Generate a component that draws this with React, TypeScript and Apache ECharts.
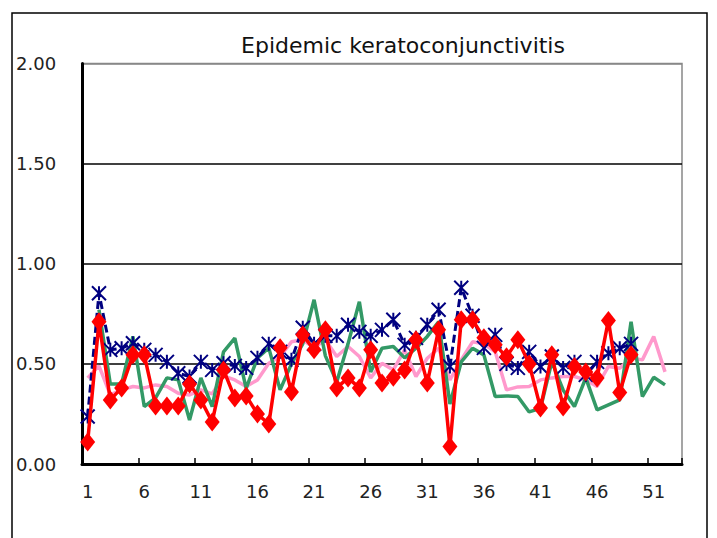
import React, { useEffect, useRef } from "react";
import * as echarts from "echarts";

const titleText = "Epidemic keratoconjunctivitis";
const weeks: string[] = Array.from({ length: 53 }, (_, i) => String(i + 1));
const yTicks = [0, 0.5, 1.0, 1.5, 2.0];

const pinkSeries: (number | null)[] = [
  0.43, 0.49, 0.345, 0.37, 0.387, 0.38, 0.395, 0.387, 0.353, 0.345,
  0.37, 0.35, 0.44, 0.42, 0.387, 0.42, 0.503, 0.537, 0.61, 0.62,
  0.58, 0.62, 0.537, 0.587, 0.537, 0.43, 0.503, 0.47, 0.57, 0.437,
  0.528, 0.578, 0.42, 0.52, 0.61, 0.6, 0.56, 0.37, 0.385, 0.387,
  0.42, 0.43, 0.437, 0.437, 0.42, 0.387, 0.487, 0.478, 0.53, 0.52,
  0.637, 0.46,
];

const greenSeries: (number | null)[] = [
  null, 0.77, 0.4, 0.4, 0.637, 0.287, 0.33, 0.43, 0.42, 0.22,
  0.43, 0.287, 0.56, 0.628, 0.378, 0.53, 0.58, 0.37, 0.5, 0.6,
  0.82, 0.54, 0.41, 0.6, 0.81, 0.46, 0.578, 0.587, 0.53, 0.578,
  0.637, 0.71, 0.3, 0.51, 0.578, 0.545, 0.337, 0.34, 0.337, 0.26,
  0.278, 0.51, 0.37, 0.287, 0.43, 0.27, 0.295, 0.32, 0.71, 0.337,
  0.433, 0.395,
];

const navySeries: (number | null)[] = [
  0.237, 0.853, 0.57, 0.578, 0.603, 0.57, 0.545, 0.51, 0.453, 0.437,
  0.51, 0.47, 0.503, 0.49, 0.48, 0.53, 0.6, 0.56, 0.52, 0.68,
  0.6, 0.64, 0.64, 0.695, 0.66, 0.64, 0.67, 0.72, 0.595, 0.63,
  0.695, 0.77, 0.487, 0.88, 0.74, 0.58, 0.645, 0.5, 0.48, 0.56,
  0.487, 0.537, 0.48, 0.51, 0.445, 0.51, 0.553, 0.578, 0.6,
];

const redSeries: (number | null)[] = [
  0.11, 0.71, 0.32, 0.38, 0.545, 0.545, 0.29, 0.29, 0.29, 0.4,
  0.32, 0.21, 0.47, 0.33, 0.34, 0.25, 0.2, 0.58, 0.36, 0.645,
  0.57, 0.67, 0.38, 0.43, 0.38, 0.57, 0.405, 0.433, 0.47, 0.62,
  0.405, 0.67, 0.087, 0.72, 0.72, 0.63, 0.595, 0.535, 0.62, 0.5,
  0.28, 0.545, 0.285, 0.487, 0.46, 0.43, 0.717, 0.357, 0.545,
];

const starPath = "path://M0 0 L10 10 M10 0 L0 10 M5 0 L5 10";

export default function App() {
  const ref = useRef<HTMLDivElement>(null);
  useEffect(() => {
    if (!ref.current) return;
    const chart = echarts.init(ref.current, undefined, { renderer: "svg" });
    const font = "DejaVu Sans";
    chart.setOption({
      animation: false,
      backgroundColor: "#ffffff",
      title: {
        text: titleText,
        left: 398,
        top: 29,
        textAlign: "center",
        textStyle: {
          fontFamily: font,
          fontSize: 22,
          fontWeight: "normal",
          color: "#111",
        },
      },
      graphic: [
        {
          type: "rect",
          shape: { x: 12, y: 13, width: 695, height: 600 },
          style: { fill: "none", stroke: "#000", lineWidth: 1.5 },
          silent: true,
        },
      ],
      grid: {
        left: 82,
        right: 35,
        top: 63.5,
        bottom: 74,
        show: true,
        borderColor: "#888",
        borderWidth: 1.5,
        backgroundColor: "transparent",
      },
      xAxis: {
        type: "category",
        data: weeks,
        boundaryGap: true,
        axisLine: { lineStyle: { color: "#000", width: 3 } },
        axisTick: {
          show: true,
          inside: true,
          interval: 4,
          length: 6,
          lineStyle: { color: "#000", width: 1.5 },
        },
        axisLabel: {
          interval: 4,
          margin: 18,
          fontFamily: font,
          fontSize: 18,
          color: "#222",
        },
        splitLine: { show: false },
      },
      yAxis: {
        type: "value",
        min: yTicks[0],
        max: yTicks[yTicks.length - 1],
        interval: 0.5,
        axisLine: { show: true, lineStyle: { color: "#000", width: 3 } },
        axisTick: { show: false },
        axisLabel: {
          align: "left",
          margin: 66,
          fontFamily: font,
          fontSize: 18,
          color: "#222",
          formatter: (v: number) => v.toFixed(2),
        },
        splitLine: {
          show: true,
          lineStyle: { color: ["#000", "#000", "#000", "#000", "#888"], width: 1.5 },
        },
      },
      series: [
        {
          type: "line",
          data: pinkSeries,
          symbol: "none",
          lineStyle: { color: "#FF99CC", width: 3.5 },
          itemStyle: { color: "#FF99CC" },
          z: 2,
        },
        {
          type: "line",
          data: greenSeries,
          symbol: "none",
          lineStyle: { color: "#339966", width: 3.5 },
          itemStyle: { color: "#339966" },
          z: 3,
        },
        {
          type: "line",
          data: navySeries,
          symbol: starPath,
          symbolSize: 14,
          showAllSymbol: true,
          lineStyle: { color: "#000080", width: 3, type: [8, 4] },
          itemStyle: { color: "none", borderColor: "#000080", borderWidth: 2 },
          z: 4,
        },
        {
          type: "line",
          data: redSeries,
          symbol: "diamond",
          symbolSize: [15, 19],
          showAllSymbol: true,
          lineStyle: { color: "#FF0000", width: 3.5 },
          itemStyle: { color: "#FF0000" },
          z: 5,
        },
      ],
    });
    return () => chart.dispose();
  }, []);
  return (
    <div
      ref={ref}
      style={{ position: "absolute", left: 0, top: 0, width: 717, height: 538 }}
    />
  );
}
